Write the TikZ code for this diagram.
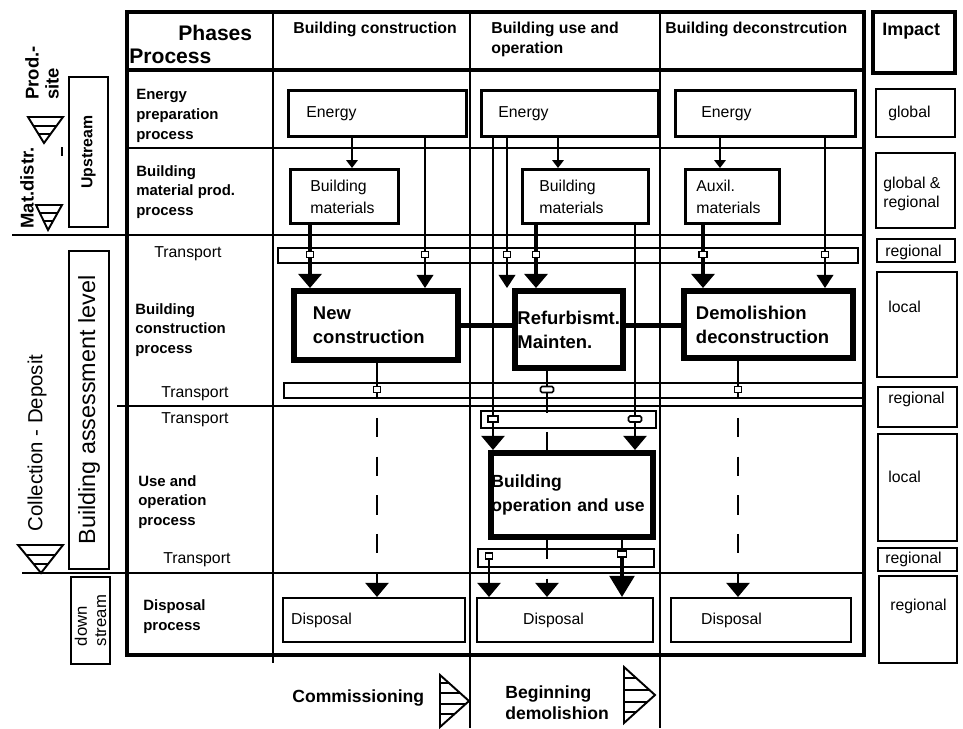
\documentclass[tikz,border=0pt]{standalone}
\usepackage{fontspec}
\setmainfont{Liberation Sans}
\usetikzlibrary{arrows.meta}

\begin{document}
\begin{tikzpicture}[
  x=0.02cm, y=-0.02cm,
  font=\fontsize{9}{11}\selectfont,
  frame/.style={line width=1.8pt},
  rule/.style={line width=1.3pt},
  thin/.style={line width=1.1pt},
  level/.style={line width=1.1pt},
  ibox/.style={line width=1.2pt},
  rowlbl/.style={anchor=west,align=left,inner sep=0pt,
                 font=\fontsize{8.5}{11.3}\selectfont\bfseries},
  itxt/.style={anchor=base west,inner sep=0pt},
  colhead/.style={anchor=base west,inner sep=0pt,align=left,
                  font=\fontsize{9}{11.3}\selectfont\bfseries},
  ebox/.style={draw,line width=1.6pt,anchor=north west,align=left,
               minimum height=0.92cm,inner ysep=0pt},
  mbox/.style={draw,line width=1.6pt,anchor=north west,align=left,
               minimum height=1.08cm,inner ysep=0pt,
               font=\fontsize{9}{12.5}\selectfont},
  pbox/.style={draw,line width=3.4pt,anchor=north west,align=left,
               inner ysep=0pt,font=\fontsize{10.5}{13.6}\selectfont\bfseries},
  dbox/.style={draw,line width=1.4pt,anchor=north west,align=left,
               minimum height=0.88cm,inner ysep=0pt},
  tbar/.style={draw,line width=1pt,anchor=north west,inner sep=0pt,
               minimum height=0.3cm},
  port/.style={draw,line width=0.9pt,inner sep=0pt,
               minimum width=0.14cm,minimum height=0.12cm},
  wport/.style={port,rounded corners=0.8pt,minimum width=0.26cm},
  side/.style={draw,line width=1.2pt,rotate=90,inner sep=0pt},
  tip/.style={thin,-{Triangle[width=6.5pt,length=4.5pt]}},
  feed/.style={thin,-{Triangle[width=9.5pt,length=7.5pt]}},
  mfeed/.style={line width=2pt,-{Triangle[width=13pt,length=8pt]}},
  waste/.style={line width=1.6pt,-{Triangle[width=13pt,length=8pt]}},
  gap/.style={dash pattern=on 11pt off 11pt},
  link/.style={line width=3.4pt}
]
\useasboundingbox (0,0) rectangle (963,728);

% table grid
\draw[frame] (127,12) rectangle (864,655);
\draw[frame] (127,70) -- (864,70);
\draw[rule] (273,10) -- (273,663);
\draw[rule] (470,12) -- (470,728);
\draw[rule] (660,12) -- (660,728);
\draw[rule] (127,148) -- (864,148);
\draw[rule] (12,235) -- (864,235);
\draw[rule] (117,406) -- (864,406);
\draw[rule] (22,573) -- (864,573);

% headings
\node[anchor=base west,inner sep=0pt,font=\fontsize{12}{14}\selectfont\bfseries] (phs) at (178,40) {Phases};
\node[anchor=base west,inner sep=0pt,font=\fontsize{12}{14}\selectfont\bfseries] (prc) at (129,63) {Process};
\node[colhead] (h1) at (293,33) {Building construction};
\node[colhead,anchor=west] (h2) at (491,39) {Building use and\\operation};
\node[colhead] (h3) at (665,33) {Building deconstrcution};

% process rows
\node[rowlbl] (r1) at (136,116) {Energy\\preparation\\process};
\node[rowlbl] (r2) at (136,192) {Building\\material prod.\\process};
\node[itxt] (t1) at (154,257) {Transport};
\node[rowlbl] (r3) at (135,330) {Building\\construction\\process};
\node[itxt] (t2) at (161,397) {Transport};
\node[itxt] (t3) at (161,423) {Transport};
\node[rowlbl] (r4) at (138,502) {Use and\\operation\\process};
\node[itxt] (t4) at (163,563) {Transport};
\node[rowlbl] (r5) at (143,617) {Disposal\\process};

% left margin
\node[rotate=90,align=left,inner sep=0pt,font=\fontsize{10.5}{11.3}\selectfont\bfseries] (site) at (42,73) {Prod.-\\site};
\node[rotate=90,inner sep=0pt,font=\fontsize{10.5}{12}\selectfont\bfseries] (mdis) at (27,188) {Mat.distr.};
\draw[thin] (62,147) -- (62,156);
\node[rotate=90,inner sep=0pt,font=\fontsize{11.6}{14}\selectfont] (cdep) at (37,443) {Collection - Deposit};
\node[side,minimum width=3cm,minimum height=0.78cm,font=\fontsize{9}{11}\selectfont\bfseries] (ups) at (88.5,152) {Upstream};
\node[side,minimum width=6.36cm,minimum height=0.8cm,font=\fontsize{13.3}{15}\selectfont] (bal) at (89,410) {Building assessment level};
\node[side,minimum width=1.74cm,minimum height=0.78cm,align=left,font=\fontsize{9.5}{11}\selectfont] (dst) at (90.5,620.5) {down\\stream};

% level marks
\begin{scope}
  \clip (28,117) -- (63,117) -- (44,143) -- cycle;
  \foreach \y in {126,134} \draw[level] (0,\y) -- (100,\y);
\end{scope}
\draw[level] (28,117) -- (63,117) -- (44,143) -- cycle;
\begin{scope}
  \clip (36,205) -- (62,205) -- (48,230) -- cycle;
  \foreach \y in {213,221} \draw[level] (0,\y) -- (100,\y);
\end{scope}
\draw[level] (36,205) -- (62,205) -- (48,230) -- cycle;
\begin{scope}
  \clip (18,545) -- (63,545) -- (41,573) -- cycle;
  \foreach \y in {555,564} \draw[level] (0,\y) -- (100,\y);
\end{scope}
\draw[level] (18,545) -- (63,545) -- (41,573) -- cycle;

% boxes
\node[ebox,text width=2.84cm,inner xsep=0.36cm] (en1) at (287,89) {Energy};
\node[ebox,text width=2.86cm,inner xsep=0.34cm] (en2) at (480,89) {Energy};
\node[ebox,text width=2.56cm,inner xsep=0.52cm] (en3) at (674,89) {Energy};
\node[mbox,text width=1.36cm,inner xsep=0.4cm] (mat1) at (289,168) {Building\\materials};
\node[mbox,text width=1.84cm,inner xsep=0.34cm] (mat2) at (521,168) {Building\\materials};
\node[mbox,text width=1.44cm,inner xsep=0.22cm] (aux3) at (684,168) {Auxil.\\materials};
\node[pbox,text width=2.52cm,inner xsep=0.38cm,minimum height=1.38cm] (newc) at (291,288) {New\\construction};
\node[pbox,text width=2.06cm,inner xsep=0.05cm,minimum height=1.54cm] (refm) at (512,288) {Refurbismt.\\Mainten.};
\node[pbox,text width=2.9cm,inner xsep=0.24cm,minimum height=1.34cm] (demo) at (681,288) {Demolishion\\deconstruction};
\node[pbox,text width=3.22cm,inner xsep=0.01cm,minimum height=1.68cm,
      font=\fontsize{10}{13.6}\selectfont\bfseries] (bop) at (488,450) {Building\\operation and use};
\node[dbox,text width=3.32cm,inner xsep=0.16cm] (disp1) at (282,597) {Disposal};
\node[dbox,text width=1.68cm,inner xsep=0.92cm] (disp2) at (476,597) {Disposal};
\node[dbox,text width=2.4cm,inner xsep=0.6cm] (disp3) at (670,597) {Disposal};

% transport bars and ports
\node[tbar,minimum width=11.6cm] (bar1) at (277,247) {};
\node[tbar,minimum width=11.62cm] (bar2) at (283,382) {};
\node[tbar,minimum width=3.5cm,minimum height=0.34cm] (bar3) at (480,410) {};
\node[tbar,minimum width=3.52cm,minimum height=0.36cm] (bar4) at (477,548) {};
\node[port] (q11) at (310,254.5) {};
\node[port] (q12) at (425,254.5) {};
\node[port] (q13) at (507,254.5) {};
\node[port] (q14) at (536,254.5) {};
\node[port,minimum width=0.16cm] (q15) at (703,254.5) {};
\node[port] (q16) at (825,254.5) {};
\node[port] (q21) at (377,389.5) {};
\node[wport] (q22) at (547,389.5) {};
\node[port] (q23) at (738,389.5) {};
\node[port,minimum width=0.2cm] (q31) at (493,419) {};
\node[wport] (q32) at (635,419) {};
\node[port] (q41) at (489,556) {};
\node[port,minimum width=0.18cm] (q42) at (622,554) {};

% flows
\coordinate (k1) at (352,150);
\coordinate (k2) at (558,150);
\coordinate (k3) at (720,150);
\draw[tip] (en1.south -| k1) -- (mat1.north -| k1);
\draw[tip] (en2.south -| k2) -- (mat2.north -| k2);
\draw[tip] (en3.south -| k3) -- (aux3.north -| k3);

\draw[line width=2pt] (mat1.south -| q11) -- (q11);
\draw[mfeed] (q11) -- (newc.north -| q11);
\draw[thin] (en1.south -| q12) -- (q12);
\draw[feed] (q12) -- (newc.north -| q12);
\draw[thin] (en2.south -| q13) -- (q13);
\draw[feed] (q13) -- (refm.north -| q13);
\draw[line width=2pt] (mat2.south -| q14) -- (q14);
\draw[mfeed] (q14) -- (refm.north -| q14);
\draw[line width=2pt] (aux3.south -| q15) -- (q15);
\draw[mfeed] (q15) -- (demo.north -| q15);
\draw[thin] (en3.south -| q16) -- (q16);
\draw[feed] (q16) -- (demo.north -| q16);

\draw[thin] (en2.south -| q31) -- (q31);
\draw[waste] (q31) -- (bop.north -| q31);
\draw[thin] (mat2.south -| q32) -- (q32);
\draw[waste] (q32) -- (bop.north -| q32);

\draw[link] (newc.east) -- (newc.east -| refm.west);
\draw[link] (refm.east |- newc.east) -- (newc.east -| demo.west);

\draw[rule] (newc.south -| q21) -- (q21);
\draw[waste,gap,dash phase=8pt] (q21) -- (disp1.north -| q21);
\draw[rule] (demo.south -| q23) -- (q23);
\draw[waste,gap,dash phase=8pt] (q23) -- (disp3.north -| q23);
\draw[rule] (refm.south -| q22) -- (q22);
\draw[rule,gap] (q22) -- (bop.north -| q22);
\draw[waste,gap] (bop.south -| q22) -- (disp2.north -| q22);
\draw[rule] (bop.south -| q42) -- (q42);
\draw[line width=2pt,-{Triangle[width=14pt,length=12pt]}] (q42) -- (disp2.north -| q42);
\draw[waste] (q41) -- (disp2.north -| q41);

% impact column
\draw[frame] (873,12) rectangle (955,73);
\node[itxt,font=\fontsize{10.2}{12}\selectfont\bfseries] (imp) at (882,35) {Impact};
\draw[ibox] (876,89) rectangle (955,137);
\node[itxt] (i1) at (888,117) {global};
\draw[ibox] (876,153) rectangle (955,228);
\node[anchor=west,align=left,inner sep=0pt] (i2) at (883,194) {global \&\\regional};
\draw[ibox] (877,239) rectangle (955,262);
\node[itxt] (i3) at (885,256) {regional};
\draw[ibox] (877,272) rectangle (957,377);
\node[itxt] (i4) at (888,312) {local};
\draw[ibox] (878,387) rectangle (957,427);
\node[itxt] (i5) at (888,403) {regional};
\draw[ibox] (878,434) rectangle (957,541);
\node[itxt] (i6) at (888,482) {local};
\draw[ibox] (878,548) rectangle (957,571);
\node[itxt] (i7) at (885,563) {regional};
\draw[ibox] (879,576) rectangle (957,663);
\node[itxt] (i8) at (890,610) {regional};

% phase milestones
\node[anchor=base west,inner sep=0pt,font=\fontsize{10}{12}\selectfont\bfseries] (com) at (292,702) {Commissioning};
\begin{scope}
  \clip (440,675) -- (440,727) -- (469,701) -- cycle;
  \foreach \y in {683,693,704,714} \draw[level] (400,\y) -- (500,\y);
\end{scope}
\draw[level] (440,675) -- (440,727) -- (469,701) -- cycle;
\node[anchor=west,inner sep=0pt,align=left,font=\fontsize{10}{12}\selectfont\bfseries] (beg) at (505,703) {Beginning\\demolishion};
\begin{scope}
  \clip (624,667) -- (624,723) -- (655,695) -- cycle;
  \foreach \y in {678,690,702,712} \draw[level] (600,\y) -- (700,\y);
\end{scope}
\draw[level] (624,667) -- (624,723) -- (655,695) -- cycle;
\end{tikzpicture}
\end{document}
